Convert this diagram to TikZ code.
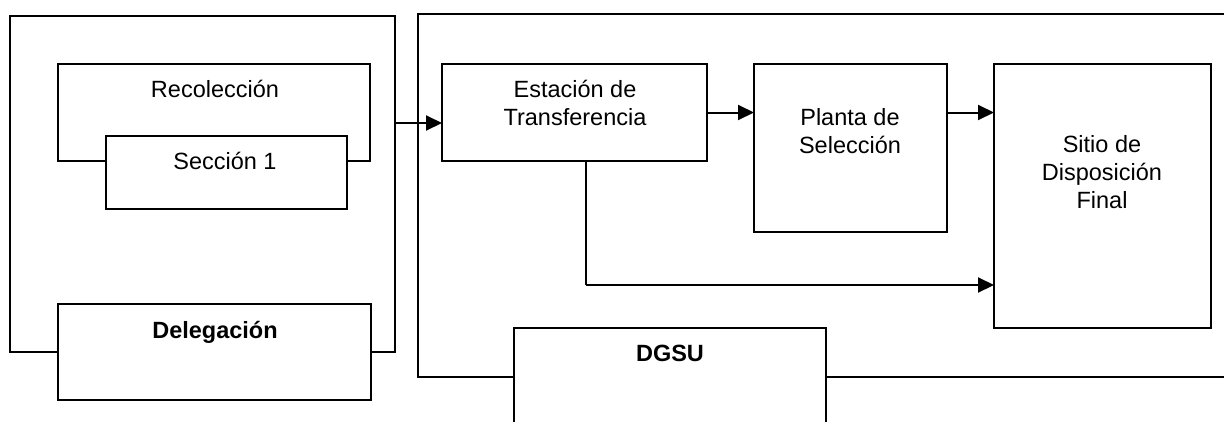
\documentclass[tikz,border=0pt]{standalone}
\usepackage{fontspec}
\setmainfont{Liberation Sans}
\usetikzlibrary{arrows.meta,fit}
\tikzset{
  box/.style={draw, line width=2pt, inner sep=0pt, outer sep=0pt, fill=white},
  lbl/.style={inner sep=0pt, anchor=base, align=center,
    font=\fontsize{23.5}{28}\selectfont},
  arr/.style={line width=2pt, -{Triangle[length=16pt,width=15pt]}},
  wire/.style={line width=2pt}
}
\begin{document}
\begin{tikzpicture}[x=1pt,y=-1pt]
\useasboundingbox (0,0) rectangle (1224,421);
\clip (0,0) rectangle (1224,421);
% left group: collection and delegation
\node[box, fit={(10,16) (395,352)}] (left) {};
\node[box, fit={(58,64) (370,161)}] (rec) {};
\node[box, fit={(106,136) (347,209)}] (sec) {};
\node[box, fit={(58,304) (371,400)}] (del) {};
% right group: transfer, selection, final disposal
\node[box, fit={(418,14) (1240,377)}] (right) {};
\node[box, fit={(442,64) (707,161)}] (est) {};
\node[box, fit={(754,64) (947,232)}] (pla) {};
\node[box, fit={(994,64) (1211,328)}] (sit) {};
\node[box, fit={(514,328) (826,460)}] (dgsu) {};
% labels (base anchor sits on the last line)
\node[lbl] (trec) at (215,97) {Recolección};
\node[lbl] (tsec) at (225,169) {Sección 1};
\node[lbl, font=\fontsize{23.5}{28}\selectfont\bfseries] (tdel) at (215,338) {Delegación};
\node[lbl] (test) at (575,125) {Estación de\\Transferencia};
\node[lbl] (tpla) at (850,153) {Planta de\\Selección};
\node[lbl] (tsit) at (1102,208) {Sitio de\\Disposición\\Final};
\node[lbl, font=\fontsize{23.5}{28}\selectfont\bfseries] (tdgsu) at (670,361) {DGSU};
% flows
\coordinate (bend) at (586,285);
\draw[arr] (left.east |- 0,123) -- (est.west |- 0,123);
\draw[arr] (est.east) -- (pla.west |- est.east);
\draw[arr] (pla.east |- est.east) -- (sit.west |- est.east);
\draw[wire] (est.south -| bend) -- (bend);
\draw[arr] (bend) -- (sit.west |- bend);
\end{tikzpicture}
\end{document}
